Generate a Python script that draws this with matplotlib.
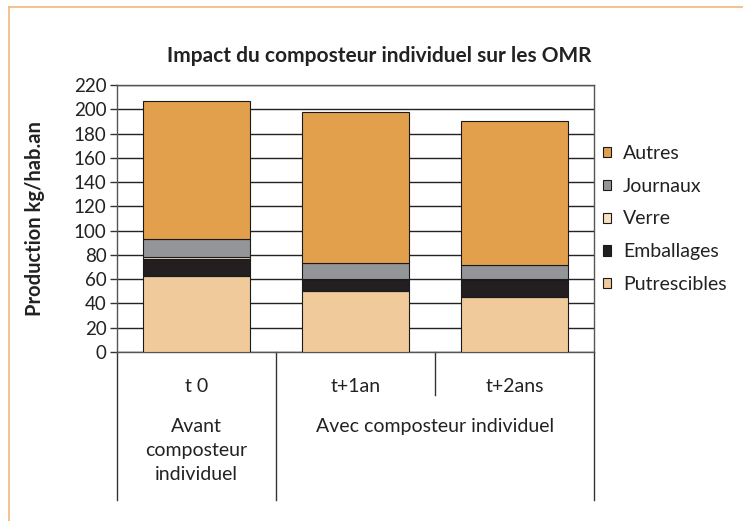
import matplotlib
matplotlib.use("Agg")
import matplotlib.pyplot as plt
import numpy as np
from matplotlib.lines import Line2D
from matplotlib.patches import Patch

plt.rcParams['font.family'] = ['Lato', 'DejaVu Sans']

# donnees (kg/hab.an)
periodes = ["t 0", "t+1an", "t+2ans"]
putrescibles = [63, 50, 45]
emballages = [14, 10, 14]
verre = [1, 0.5, 1.5]
journaux = [15, 12.5, 11]
autres = [114, 125, 119]

series = ["Putrescibles", "Emballages", "Verre", "Journaux", "Autres"]
couleurs = ["#F0CA9A", "#231F20", "#F9E0C0", "#949599", "#E3A04C"]
valeurs = [putrescibles, emballages, verre, journaux, autres]

groupe_avant = ["Avant", "composteur", "individuel"]
groupe_avec = "Avec composteur individuel"

W, H = 743, 521
fig = plt.figure(figsize=(W / 100, H / 100), dpi=100)
ax = fig.add_axes([117 / W, 1 - 352 / H, 477 / W, 267 / H])

x = np.arange(len(periodes))
bas = np.zeros(len(periodes))
for nom, col, v in zip(series, couleurs, valeurs):
    ax.bar(x, v, width=0.667, bottom=bas, color=col, edgecolor="#1a1a1a",
           linewidth=0.8, zorder=3, label=nom)
    bas += np.array(v)

ax.set_xlim(-0.5, 2.5)
ax.set_ylim(0, 220)
ax.set_yticks(range(0, 221, 20))
ax.yaxis.grid(True, color="#222222", linewidth=1.0, zorder=0)
ax.set_xticks([])
ax.tick_params(axis="y", labelsize=13.5, length=5, width=1, color="#333333",
               labelcolor="#222222", pad=2.5)
for s in ax.spines.values():
    s.set_color("#555555")
    s.set_linewidth(1.0)

# axe des categories sous le graphique
def ay(py):
    return (352 - py) / 267

tr = ax.get_xaxis_transform()
for xs, yb in [(-0.5, 500), (0.5, 500), (2.5, 500), (1.5, 395)]:
    ax.add_line(Line2D([xs, xs], [0, ay(yb)], transform=tr, color="#333333",
                       linewidth=1.0, clip_on=False))
for i, p in enumerate(periodes):
    ax.text(i, ay(392), p, transform=tr, ha="center", va="baseline",
            fontsize=14, color="#222222")
for k, ligne in enumerate(groupe_avant):
    ax.text(0, ay(432 + 24 * k), ligne, transform=tr, ha="center",
            va="baseline", fontsize=14, color="#222222")
ax.text(1.5, ay(432), groupe_avec, transform=tr, ha="center",
        va="baseline", fontsize=14, color="#222222")

fig.text(35 / W, 0.5 + (521 / 2 - 219) / H, "Production kg/hab.an",
         rotation=90, ha="center", va="center", fontsize=14.5,
         fontweight="bold", color="#222222")
fig.text(379 / W, 1 - 62 / H, "Impact du composteur individuel sur les OMR",
         ha="center", va="baseline", fontsize=15, fontweight="bold",
         color="#222222")

# legende
poignees = [Patch(facecolor=c, edgecolor="#1a1a1a", linewidth=0.8, label=n)
            for n, c in zip(series, couleurs)][::-1]
fig.legend(handles=poignees, loc="center left",
           bbox_to_anchor=(603 / W, 1 - 219 / H), frameon=False, fontsize=14,
           handlelength=0.42, handleheight=0.42, handletextpad=0.6,
           labelspacing=0.82, borderpad=0, borderaxespad=0,
           labelcolor="#222222")

# cadre orange
fig.add_artist(Line2D([9 / W, 1], [1 - 7 / H, 1 - 7 / H],
                      transform=fig.transFigure, color="#F2B77A", linewidth=1.2))
fig.add_artist(Line2D([9 / W, 9 / W], [0, 1 - 7 / H],
                      transform=fig.transFigure, color="#F2B77A", linewidth=1.2))

fig.savefig("out.png", dpi=100)
